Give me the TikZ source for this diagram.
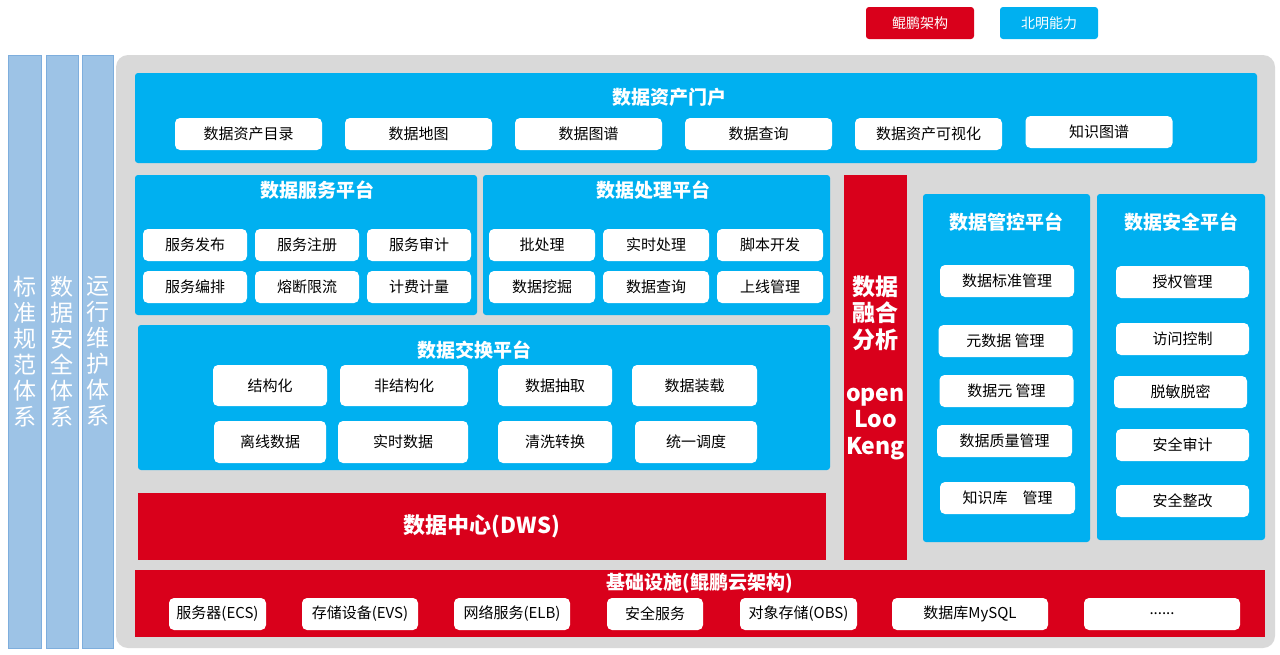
\documentclass[tikz,border=0pt]{standalone}
\usepackage{fontspec}
\setmainfont{Noto Sans CJK SC}
\usepackage{xcolor}
\usetikzlibrary{positioning}
\definecolor{hwred}{HTML}{D9001B}
\definecolor{bmblue}{HTML}{00B0F0}
\definecolor{panelgray}{HTML}{D9D9D9}
\definecolor{sideblue}{HTML}{9DC3E6}
\definecolor{sideedge}{HTML}{7EAEDD}

\begin{document}
\begin{tikzpicture}[x=1pt, y=-1pt,
    font=\fontsize{15}{18}\selectfont,
    base/.style={inner sep=0pt, outer sep=0pt},
    panel/.style={base, fill=bmblue, rounded corners=3pt},
    redbox/.style={base, fill=hwred, text=white},
    item/.style={base, fill=white, rounded corners=5pt, minimum height=32pt},
    ttl/.style={base, text=white, font=\fontsize{19}{22}\selectfont\bfseries},
    sidebar/.style={base, fill=sideblue, draw=sideedge, minimum height=593pt,
                    text=white, align=center, font=\fontsize{23}{26}\selectfont},
    legend/.style={base, rounded corners=3pt, minimum height=32pt, text=white,
                   font=\fontsize{14}{16}\selectfont}
  ]
  \useasboundingbox (0,0) rectangle (1280,654);
  % legend
  \node[legend, fill=hwred, minimum width=108pt] (kp) at (920,23) {鲲鹏架构};
  \node[legend, fill=bmblue, minimum width=98pt] (bm) at (1049,23) {北明能力};
  % side systems
  \node[sidebar, minimum width=33pt] (norm) at (24.5,351.5) {标\\准\\规\\范\\体\\系};
  \node[sidebar, minimum width=32pt] (dsec) at (62,351.5) {数\\据\\安\\全\\体\\系};
  \node[sidebar, minimum width=31pt] (ops) at (97.5,351.5) {运\\行\\维\\护\\体\\系};
  % background
  \node[base, fill=panelgray, rounded corners=12pt, minimum width=1159pt,
        minimum height=593pt] (bg) at (695.5,351.5) {};
  % data asset portal
  \node[panel, minimum width=1122pt, minimum height=90pt] (portal) at (696,118) {};
  \node[ttl] (portal-t) at (669,97) {数据资产门户};
  \node[item, minimum width=147pt] (cat) at (248.5,134) {数据资产目录};
  \node[item, minimum width=147pt, right=23pt of cat] (map) {数据地图};
  \node[item, minimum width=147pt, right=23pt of map] (graph) {数据图谱};
  \node[item, minimum width=147pt, right=23pt of graph] (query) {数据查询};
  \node[item, minimum width=147pt, right=23pt of query] (vis) {数据资产可视化};
  \node[item, minimum width=147pt] (kg) at (1099,132) {知识图谱};
  % service platform
  \node[panel, minimum width=342pt, minimum height=140pt] (svc) at (306,245) {};
  \node[ttl] (svc-t) at (317,190) {数据服务平台};
  \node[item, minimum width=104pt] (pub) at (195,245) {服务发布};
  \node[item, minimum width=104pt, right=8pt of pub] (reg) {服务注册};
  \node[item, minimum width=104pt, right=8pt of reg] (aud) {服务审计};
  \node[item, minimum width=104pt] (orch) at (195,287) {服务编排};
  \node[item, minimum width=104pt, right=8pt of orch] (fuse) {熔断限流};
  \node[item, minimum width=104pt, right=8pt of fuse] (bill) {计费计量};
  % processing platform
  \node[panel, minimum width=347pt, minimum height=140pt] (proc) at (656.5,245) {};
  \node[ttl] (proc-t) at (653,190) {数据处理平台};
  \node[item, minimum width=106pt] (batch) at (542,245) {批处理};
  \node[item, minimum width=106pt, right=8pt of batch] (rt) {实时处理};
  \node[item, minimum width=106pt, right=8pt of rt] (script) {脚本开发};
  \node[item, minimum width=106pt] (mine) at (542,287) {数据挖掘};
  \node[item, minimum width=106pt, right=8pt of mine] (dq) {数据查询};
  \node[item, minimum width=106pt, right=8pt of dq] (online) {上线管理};
  % exchange platform
  \node[panel, minimum width=692pt, minimum height=145pt] (xchg) at (484,397.5) {};
  \node[ttl] (xchg-t) at (474,350) {数据交换平台};
  \node[item, minimum width=114pt, minimum height=41pt] (struc) at (270,385.5) {结构化};
  \node[item, minimum width=128pt, minimum height=41pt] (unstruc) at (404,385.5) {非结构化};
  \node[item, minimum width=114pt, minimum height=41pt] (extract) at (555,385.5) {数据抽取};
  \node[item, minimum width=125pt, minimum height=41pt] (load) at (694.5,385.5) {数据装载};
  \node[item, minimum width=112pt, minimum height=42pt] (offline) at (270,442) {离线数据};
  \node[item, minimum width=130pt, minimum height=42pt] (rtdata) at (403,442) {实时数据};
  \node[item, minimum width=114pt, minimum height=42pt] (clean) at (555,442) {清洗转换};
  \node[item, minimum width=122pt, minimum height=42pt] (sched) at (696,442) {统一调度};
  % data center
  \node[redbox, minimum width=688pt, minimum height=67pt,
        font=\fontsize{22}{26}\selectfont\bfseries] (dws) at (482,526.5) {数据中心(DWS)};
  % fusion analysis
  \node[redbox, minimum width=63pt, minimum height=385pt, align=center,
        font=\fontsize{23}{26.5}\selectfont\bfseries] (fusion) at (875.5,367.5)
        {数据\\融合\\分析\\[26.5pt]open\\Loo\\Keng};
  % governance platform
  \node[panel, minimum width=167pt, minimum height=348pt] (mgmt) at (1006.5,368) {};
  \node[ttl] (mgmt-t) at (1006,222) {数据管控平台};
  \node[item, minimum width=134pt] (std) at (1007,281) {数据标准管理};
  \node[item, minimum width=134pt] (meta) at (1005.5,341) {元数据~管理};
  \node[item, minimum width=134pt] (elem) at (1006.5,391) {数据元~管理};
  \node[item, minimum width=135pt] (qual) at (1004.5,441) {数据质量管理};
  \node[item, minimum width=135pt] (kb) at (1007.5,498) {知识库\hspace{1em}管理};
  % security platform
  \node[panel, minimum width=168pt, minimum height=346pt] (sec) at (1181,367) {};
  \node[ttl] (sec-t) at (1181,222) {数据安全平台};
  \node[item, minimum width=133pt] (auth) at (1182.5,282) {授权管理};
  \node[item, minimum width=133pt] (acl) at (1182.5,339) {访问控制};
  \node[item, minimum width=133pt] (mask) at (1180.5,392) {脱敏脱密};
  \node[item, minimum width=133pt] (saud) at (1182.5,445) {安全审计};
  \node[item, minimum width=133pt] (fix) at (1182.5,501) {安全整改};
  % infrastructure
  \node[redbox, minimum width=1130pt, minimum height=67pt] (infra) at (700,603.5) {};
  \node[ttl] (infra-t) at (700,583) {基础设施(鲲鹏云架构)};
  \node[item, minimum width=97pt] (ecs) at (217.5,614) {服务器(ECS)};
  \node[item, minimum width=116pt, right=36pt of ecs] (evs) {存储设备(EVS)};
  \node[item, minimum width=116pt, right=36pt of evs] (elb) {网络服务(ELB)};
  \node[item, minimum width=96pt, right=37pt of elb] (secsvc) {安全服务};
  \node[item, minimum width=117pt, right=37pt of secsvc] (obs) {对象存储(OBS)};
  \node[item, minimum width=156pt, right=35pt of obs] (mysql) {数据库MySQL};
  \node[item, minimum width=156pt, right=36pt of mysql] (more) {......};
\end{tikzpicture}
\end{document}
